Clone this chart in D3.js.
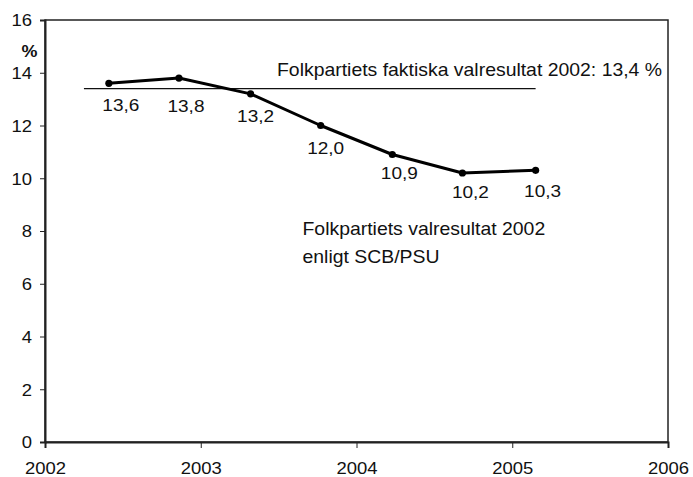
<!DOCTYPE html>
<html>
<head>
<meta charset="utf-8">
<script src="https://cdn.jsdelivr.net/npm/d3@7"></script>
<style>
  body { margin: 0; background: #fff; }
  svg text { font-family: "Liberation Sans", Arial, sans-serif; fill: #111; }
</style>
</head>
<body>
<div id="chart"></div>
<script>
// survey dates (decimal years) and Folkpartiet share in %
const dates = [2002.41, 2002.86, 2003.32, 2003.77, 2004.23, 2004.68, 2005.15];
const values = [13.6, 13.8, 13.2, 12.0, 10.9, 10.2, 10.3];
const valueLabels = ["13,6", "13,8", "13,2", "12,0", "10,9", "10,2", "10,3"];
const yTicks = [0, 2, 4, 6, 8, 10, 12, 14, 16];
const xTicks = [2002, 2003, 2004, 2005, 2006];
const actualResult = 13.4;
const actualSpan = [2002.25, 2005.15];
const actualText = "Folkpartiets faktiska valresultat 2002: 13,4 %";
const seriesText = ["Folkpartiets valresultat 2002", "enligt SCB/PSU"];

// label nudges (layout only), pixels from each point
const labelNudge = [[12, 28], [7, 34], [5, 28], [5, 28], [7, 24], [8, 25], [7, 27]];

const W = 693, H = 477;
const margin = { top: 20, right: 25, bottom: 35, left: 45 };
const sx = 1.12; // reference text is slightly wide

const svg = d3.select("#chart").append("svg")
  .attr("width", W).attr("height", H);

const x = d3.scaleLinear().domain([2002, 2006]).range([margin.left, W - margin.right]);
const y = d3.scaleLinear().domain([0, 16]).range([H - margin.bottom, margin.top]);

// frame
svg.append("rect")
  .attr("x", x(2002)).attr("y", y(16))
  .attr("width", x(2006) - x(2002)).attr("height", y(0) - y(16))
  .attr("fill", "none").attr("stroke", "#222").attr("stroke-width", 1.5);

const yAxis = svg.append("g")
  .attr("transform", `translate(${x(2002)},0)`)
  .call(d3.axisLeft(y).tickValues(yTicks).tickSize(5).tickFormat(d3.format("d")));
yAxis.select(".domain").attr("stroke", "#222").attr("stroke-width", 2);
yAxis.selectAll(".tick line").attr("stroke", "#222");
yAxis.selectAll(".tick text")
  .attr("x", 0).attr("dy", "0.36em")
  .attr("transform", `translate(-13,0) scale(${sx},1)`)
  .style("font-size", "16.5px");

const xAxis = svg.append("g")
  .attr("transform", `translate(0,${y(0)})`)
  .call(d3.axisBottom(x).tickValues(xTicks).tickSize(6).tickFormat(d3.format("d")));
xAxis.select(".domain").attr("stroke", "#222").attr("stroke-width", 2);
xAxis.selectAll(".tick line").attr("stroke", "#222");
xAxis.selectAll(".tick text")
  .attr("y", 0).attr("dy", 0)
  .attr("transform", `translate(0,31.5) scale(${sx},1)`)
  .style("font-size", "16.5px");

// "%" unit label
svg.append("text")
  .attr("transform", `translate(29.5,56.5) scale(${sx},1)`)
  .attr("text-anchor", "middle")
  .style("font-size", "16px").style("font-weight", "bold")
  .text("%");

// actual election result line
svg.append("line")
  .attr("x1", x(actualSpan[0])).attr("x2", x(actualSpan[1]))
  .attr("y1", y(actualResult)).attr("y2", y(actualResult))
  .attr("stroke", "#111").attr("stroke-width", 1.4);

svg.append("text")
  .attr("transform", `translate(277,76) scale(1.11,1)`)
  .style("font-size", "17.5px")
  .text(actualText);

// survey series
const pts = dates.map((d, i) => ({ date: d, value: values[i], label: valueLabels[i] }));

svg.append("path")
  .datum(pts)
  .attr("fill", "none").attr("stroke", "#000").attr("stroke-width", 3)
  .attr("stroke-linejoin", "round")
  .attr("d", d3.line().x(d => x(d.date)).y(d => y(d.value)));

svg.selectAll("circle.pt")
  .data(pts).enter().append("circle")
  .attr("class", "pt")
  .attr("cx", d => x(d.date)).attr("cy", d => y(d.value))
  .attr("r", 3.6).attr("fill", "#000");

svg.selectAll("text.val")
  .data(pts).enter().append("text")
  .attr("class", "val")
  .attr("text-anchor", "middle")
  .attr("transform", (d, i) =>
    `translate(${x(d.date) + labelNudge[i][0]},${y(d.value) + labelNudge[i][1]}) scale(${sx},1)`)
  .style("font-size", "17px")
  .text(d => d.label);

svg.selectAll("text.series")
  .data(seriesText).enter().append("text")
  .attr("class", "series")
  .attr("transform", (d, i) => `translate(302.5,${235 + i * 28.3}) scale(1.11,1)`)
  .style("font-size", "17.5px")
  .text(d => d);
</script>
</body>
</html>
